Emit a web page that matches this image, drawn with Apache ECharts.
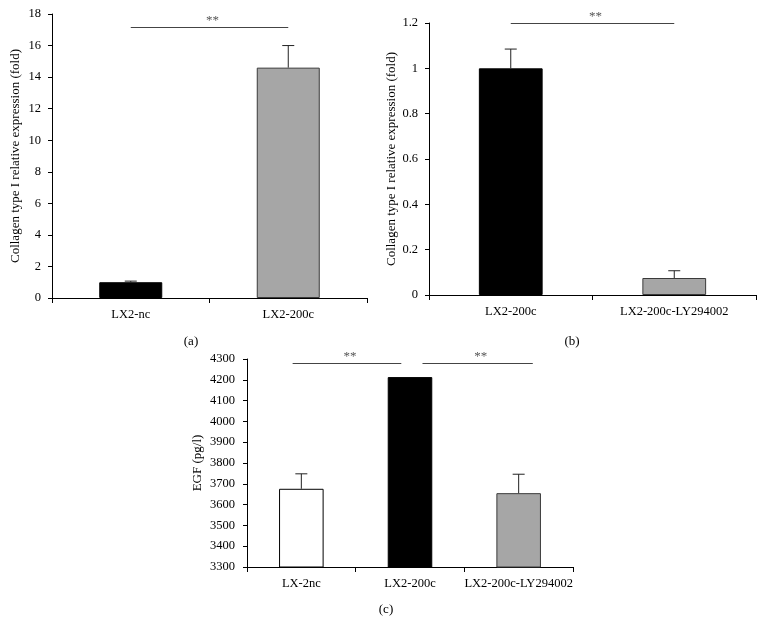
<!DOCTYPE html>
<html><head><meta charset="utf-8">
<script src="https://cdn.jsdelivr.net/npm/echarts@6/dist/echarts.min.js"></script>
<style>html,body{margin:0;padding:0;background:#fff}#c{width:764px;height:630px}</style>
</head><body><div id="c"></div>
<script>
// ---- data ----
var catsA = ['LX2-nc', 'LX2-200c'];
var valsA = [1.0, 14.6];
var errA = [0.07, 1.4];

var catsB = ['LX2-200c', 'LX2-200c-LY294002'];
var valsB = [1.0, 0.075];
var errB = [0.085, 0.032];

var catsC = ['LX-2nc', 'LX2-200c', 'LX2-200c-LY294002'];
var valsC = [3676, 4213, 3655];
var errC = [72, 0, 91];

var nameA = 'Collagen type I relative expression (fold)';
var nameB = 'Collagen type I relative expression (fold)';
var nameC = 'EGF (pg/l)';

// significance brackets: [fromCategory, toCategory, yValue, label]
var sigA = [[0, 1, 17.17, '**']];
var sigB = [[0, 1, 1.2, '**']];
var sigC = [[-0.08, 0.92, 4281, '**'], [1.115, 2.13, 4281, '**']];

// ---- styles ----
var FONT = 'Liberation Serif';
var colorsA = [{f:'#000', s:'#000'}, {f:'#a6a6a6', s:'#3a3a3a'}];
var colorsB = [{f:'#000', s:'#000'}, {f:'#a6a6a6', s:'#3a3a3a'}];
var colorsC = [{f:'#fff', s:'#000'}, {f:'#000', s:'#000'}, {f:'#a6a6a6', s:'#3a3a3a'}];

function barData(vals, cols) {
  return vals.map(function (v, i) {
    return {value: v, itemStyle: {color: cols[i].f, borderColor: cols[i].s, borderWidth: 1}};
  });
}
function errData(vals, errs) {
  return vals.map(function (v, i) { return [i, v, v + errs[i]]; });
}
function errRender(params, api) {
  var lo = api.coord([api.value(0), api.value(1)]);
  var hi = api.coord([api.value(0), api.value(2)]);
  if (Math.abs(lo[1] - hi[1]) < 0.5) return null;
  var hw = 6;
  return {type: 'group', children: [
    {type: 'line', shape: {x1: lo[0], y1: lo[1], x2: hi[0], y2: hi[1]}, style: {stroke: '#222', lineWidth: 1}},
    {type: 'line', shape: {x1: hi[0] - hw, y1: hi[1], x2: hi[0] + hw, y2: hi[1]}, style: {stroke: '#222', lineWidth: 1}}
  ]};
}
function sigRender(params, api) {
  var p0 = api.coord([0, api.value(2)]);
  var bw = api.size([1, 0])[0];
  var x0 = p0[0] + api.value(0) * bw;
  var x1 = p0[0] + api.value(1) * bw;
  var y = Math.round(p0[1]) + 0.5;
  return {type: 'group', children: [
    {type: 'line', shape: {x1: x0, y1: y, x2: x1, y2: y}, style: {stroke: '#444', lineWidth: 1}},
    {type: 'text', x: (x0 + x1) / 2 + 3, y: y, style: {text: api.value(3), font: '13px ' + FONT, fill: '#555', align: 'center', verticalAlign: 'bottom'}}
  ]};
}
function plain(v) { return String(Math.round(v * 1000) / 1000); }

function xAx(idx, cats) {
  return {type: 'category', gridIndex: idx, data: cats,
    axisLine: {lineStyle: {color: '#000', width: 1}},
    axisTick: {show: true, length: 5, lineStyle: {color: '#000'}},
    axisLabel: {color: '#000', fontFamily: FONT, fontSize: 12.5, margin: 10, interval: 0}};
}
function yAx(idx, min, max, interval, name, gap, lm) {
  return {type: 'value', gridIndex: idx, min: min, max: max, interval: interval,
    name: name, nameLocation: 'middle', nameGap: gap,
    nameTextStyle: {color: '#000', fontFamily: FONT, fontSize: 13},
    splitLine: {show: false},
    axisLine: {show: true, lineStyle: {color: '#000', width: 1}},
    axisTick: {show: true, length: 4, lineStyle: {color: '#000'}},
    axisLabel: {color: '#000', fontFamily: FONT, fontSize: 12.5, margin: lm, formatter: plain}};
}

var option = {
  animation: false,
  backgroundColor: '#fff',
  title: [
    {text: '(a)', left: 186, top: 330, textAlign: 'center', textStyle: {fontFamily: FONT, fontSize: 13, fontWeight: 'normal', color: '#000'}},
    {text: '(b)', left: 567, top: 330, textAlign: 'center', textStyle: {fontFamily: FONT, fontSize: 13, fontWeight: 'normal', color: '#000'}},
    {text: '(c)', left: 381, top: 598, textAlign: 'center', textStyle: {fontFamily: FONT, fontSize: 13, fontWeight: 'normal', color: '#000'}}
  ],
  grid: [
    {left: 52, top: 14, width: 315, height: 284},
    {left: 429, top: 23, width: 327, height: 272},
    {left: 247, top: 359, width: 326, height: 208}
  ],
  xAxis: [xAx(0, catsA), xAx(1, catsB), xAx(2, catsC)],
  yAxis: [
    yAx(0, 0, 18, 2, nameA, 30, 11),
    yAx(1, 0, 1.2, 0.2, nameB, 25, 11),
    yAx(2, 3300, 4300, 100, nameC, 43, 12)
  ],
  series: [
    {type: 'bar', xAxisIndex: 0, yAxisIndex: 0, barWidth: '40%', data: barData(valsA, colorsA)},
    {type: 'bar', xAxisIndex: 1, yAxisIndex: 1, barWidth: '39%', data: barData(valsB, colorsB)},
    {type: 'bar', xAxisIndex: 2, yAxisIndex: 2, barWidth: '41%', data: barData(valsC, colorsC)},
    {type: 'custom', xAxisIndex: 0, yAxisIndex: 0, z: 5, renderItem: errRender, data: errData(valsA, errA)},
    {type: 'custom', xAxisIndex: 1, yAxisIndex: 1, z: 5, renderItem: errRender, data: errData(valsB, errB)},
    {type: 'custom', xAxisIndex: 2, yAxisIndex: 2, z: 5, renderItem: errRender, data: errData(valsC, errC)},
    {type: 'custom', xAxisIndex: 0, yAxisIndex: 0, z: 6, clip: false, renderItem: sigRender, data: sigA},
    {type: 'custom', xAxisIndex: 1, yAxisIndex: 1, z: 6, clip: false, renderItem: sigRender, data: sigB},
    {type: 'custom', xAxisIndex: 2, yAxisIndex: 2, z: 6, clip: false, renderItem: sigRender, data: sigC}
  ]
};
var chart = echarts.init(document.getElementById('c'), null, {renderer: 'canvas'});
chart.setOption(option);
</script>
</body></html>
